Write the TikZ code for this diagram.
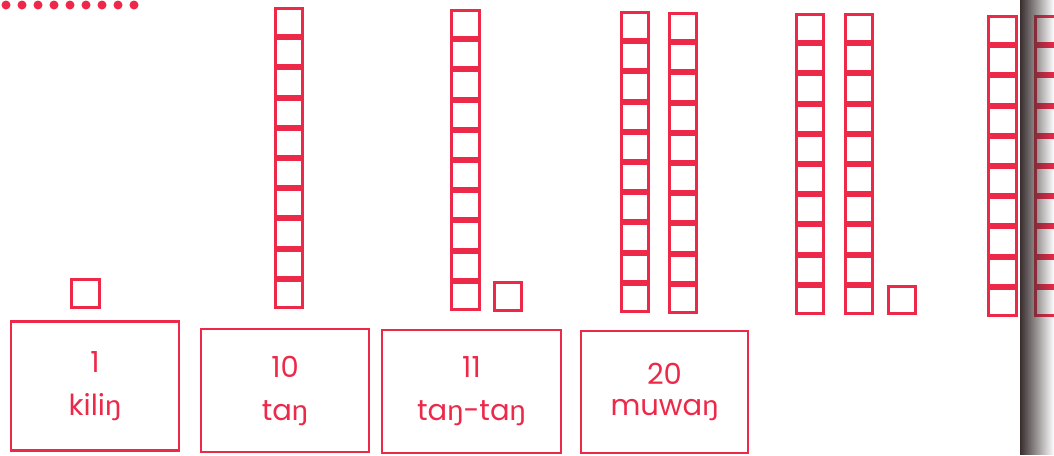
\documentclass[tikz,border=0pt]{standalone}
\usepackage{fontspec}
\setmainfont{Poppins}
\newfontfamily\engfont{Lato}
\newcommand\eng{{\engfont ŋ}}
\usetikzlibrary{fadings}
\definecolor{rojo-tinta}{rgb}{.93,.16,.29}
\definecolor{sombra}{rgb}{.22,.18,.18}

\begin{document}
\begin{tikzpicture}[x=1pt, y=-1pt, line width=3pt,
	   cell/.style={draw=rojo-tinta, inner sep=0pt, minimum size=27.2pt},
	   card/.style={draw=rojo-tinta, line width=2.5pt, text=rojo-tinta, align=center, inner sep=0pt, font=\fontsize{29}{43}\selectfont}]
	  \useasboundingbox (0,0) rectangle (1054,455);
	  \foreach \k in {0,...,8} \fill[rojo-tinta] ({6+16*\k},5) circle (4.5pt);
	  % columns of ten
	  \foreach \c/\x/\t in {tan/289/7, tantan/465.5/9, muwa/635/11, muwb/683/12, ua/810/13, ub/859/13, uc/1002.5/15, ud/1049/15}
	    \foreach \i in {1,...,10}
	      \node[cell] (\c-\i) at (\x,{\t+15.1+30.2*(\i-1)}) {};
	  % single units
	  \node[cell] (kilin-u) at (85.5,293.5) {};
	  \node[cell] (tantan-u) at (508,296.5) {};
	  \node[cell] (ub-u) at (902,300) {};
	  \node[card, minimum width=168pt, minimum height=129pt] (kilin) at (95,386) {1\\kili\eng};
	  \node[card, minimum width=168pt, minimum height=123pt] (tan) at (285,390.5) {10\\ta\eng};
	  \node[card, minimum width=179pt, minimum height=123pt] (tantan) at (471.5,391.5) {11\\ta\eng-ta\eng};
	  \node[card, minimum width=167pt, minimum height=122pt, font=\fontsize{29}{31}\selectfont] (muwan) at (664.5,392) {20\\muwa\eng};
	  \fill[sombra, path fading=east] (1020,0) rectangle (1054,455);
	\end{tikzpicture}
\end{document}
